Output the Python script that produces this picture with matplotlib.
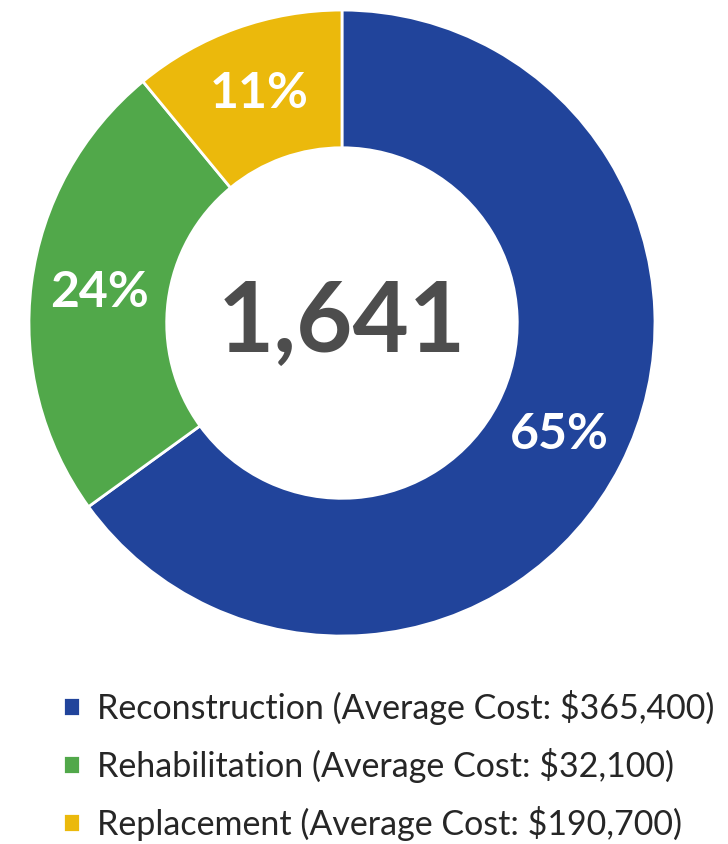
import matplotlib.pyplot as plt

# project counts by treatment type
categories = ['Reconstruction', 'Rehabilitation', 'Replacement']
counts = [1067, 394, 180]
avg_costs = ['$365,400', '$32,100', '$190,700']
colors = ['#21449B', '#51A84A', '#EBB90C']

plt.rcParams['font.family'] = ['Lato', 'DejaVu Sans']

fig = plt.figure(figsize=(7.28, 8.44), dpi=100)
ax = fig.add_axes([0.0398, 0.2464, 0.8599, 0.7417])

wedges, texts, autotexts = ax.pie(
    counts, colors=colors, startangle=90, counterclock=False,
    radius=1, autopct='%1.0f%%', pctdistance=0.78,
    wedgeprops=dict(width=0.44, edgecolor='white', linewidth=2),
    textprops=dict(color='white', fontsize=36, fontweight='bold'))
ax.set_xlim(-1, 1)
ax.set_ylim(-1, 1)
ax.set_aspect('equal')

#total in the middle of the donut
ax.text(0, 0, '{:,}'.format(sum(counts)), ha='center', va='center',
        fontsize=70, fontweight='bold', color='#4D4D4D')

labels = ['{} (Average Cost: {})'.format(c, a) for c, a in zip(categories, avg_costs)]
fig.legend(wedges, labels, loc='upper left', bbox_to_anchor=(0.086, 0.183),
           frameon=False, fontsize=24.5, handlelength=0.5, handleheight=0.5,
           handletextpad=0.5, labelspacing=0.68, borderpad=0, borderaxespad=0,
           labelcolor='#262626')

fig.savefig('out.png', dpi=100)
